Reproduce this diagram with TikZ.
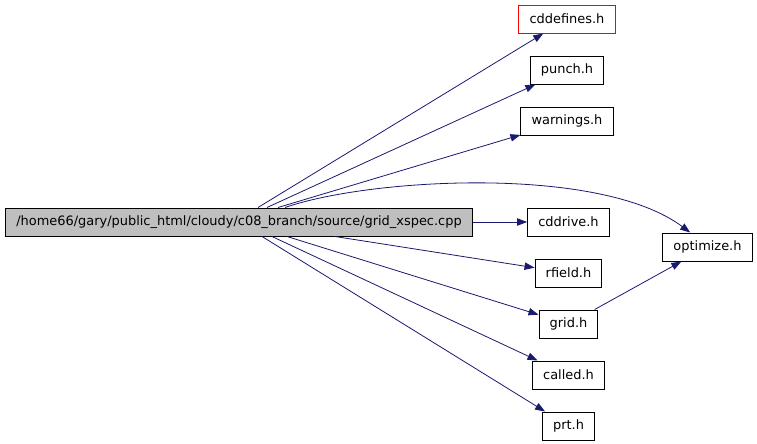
\documentclass[tikz,border=0pt]{standalone}
\usepackage{fontspec}
\setmainfont{DejaVu Sans}
\usepackage{tikz}
\usetikzlibrary{arrows.meta,positioning}
\definecolor{edgeblue}{HTML}{191970}
\definecolor{maingray}{HTML}{BFBFBF}

\begin{document}
\begin{tikzpicture}[x=0.75pt,y=-0.75pt,node distance=16.5pt,
  b/.style={draw,line width=0.75pt,fill=white,font=\fontsize{9.7pt}{11pt}\selectfont,minimum height=21pt,inner xsep=8pt,inner ysep=0pt},
  m/.style={b,fill=maingray},
  r/.style={b,draw=red},
  f/.style={-{Triangle[length=7.5pt,width=5.5pt]},edgeblue,line width=0.6pt}]
\useasboundingbox (0,0) rectangle (757,443);
\node[m] (main) at (239,222) {/home66/gary/public\_html/cloudy/c08\_branch/source/grid\_xspec.cpp};
\node[r] (cddefines) at (567,19) {cddefines.h};
\node[b,below=of cddefines] (punch) {punch.h};
\node[b,below=of punch] (warnings) {warnings.h};
\node[b] (cddrive) at (568.5,222) {cddrive.h};
\node[b,below=of cddrive] (rfield) {rfield.h};
\node[b,below=of rfield] (grid) {grid.h};
\node[b,below=of grid] (called) {called.h};
\node[b,below=of called] (prt) {prt.h};
\node[b] (optimize) at (707.5,247) {optimize.h};
% edges out of the top of the main file
\draw[f] ([xshift=14.25pt]main.north) -- (cddefines);
\draw[f] ([xshift=21pt]main.north) -- (punch);
\draw[f] ([xshift=29.25pt]main.north) -- (warnings);
\draw[f] ([xshift=34.5pt]main.north) .. controls (370,178) and (600,165) .. ([xshift=-13pt]optimize.north);
\draw[f] (main) -- (cddrive);
% edges out of the bottom
\draw[f] ([xshift=72pt]main.south) -- (rfield);
\draw[f] ([xshift=36pt]main.south) -- (grid);
\draw[f] ([xshift=24.75pt]main.south) -- (called);
\draw[f] ([xshift=17.25pt]main.south) -- (prt);
\draw[f] (grid) -- (optimize);
\end{tikzpicture}
\end{document}
